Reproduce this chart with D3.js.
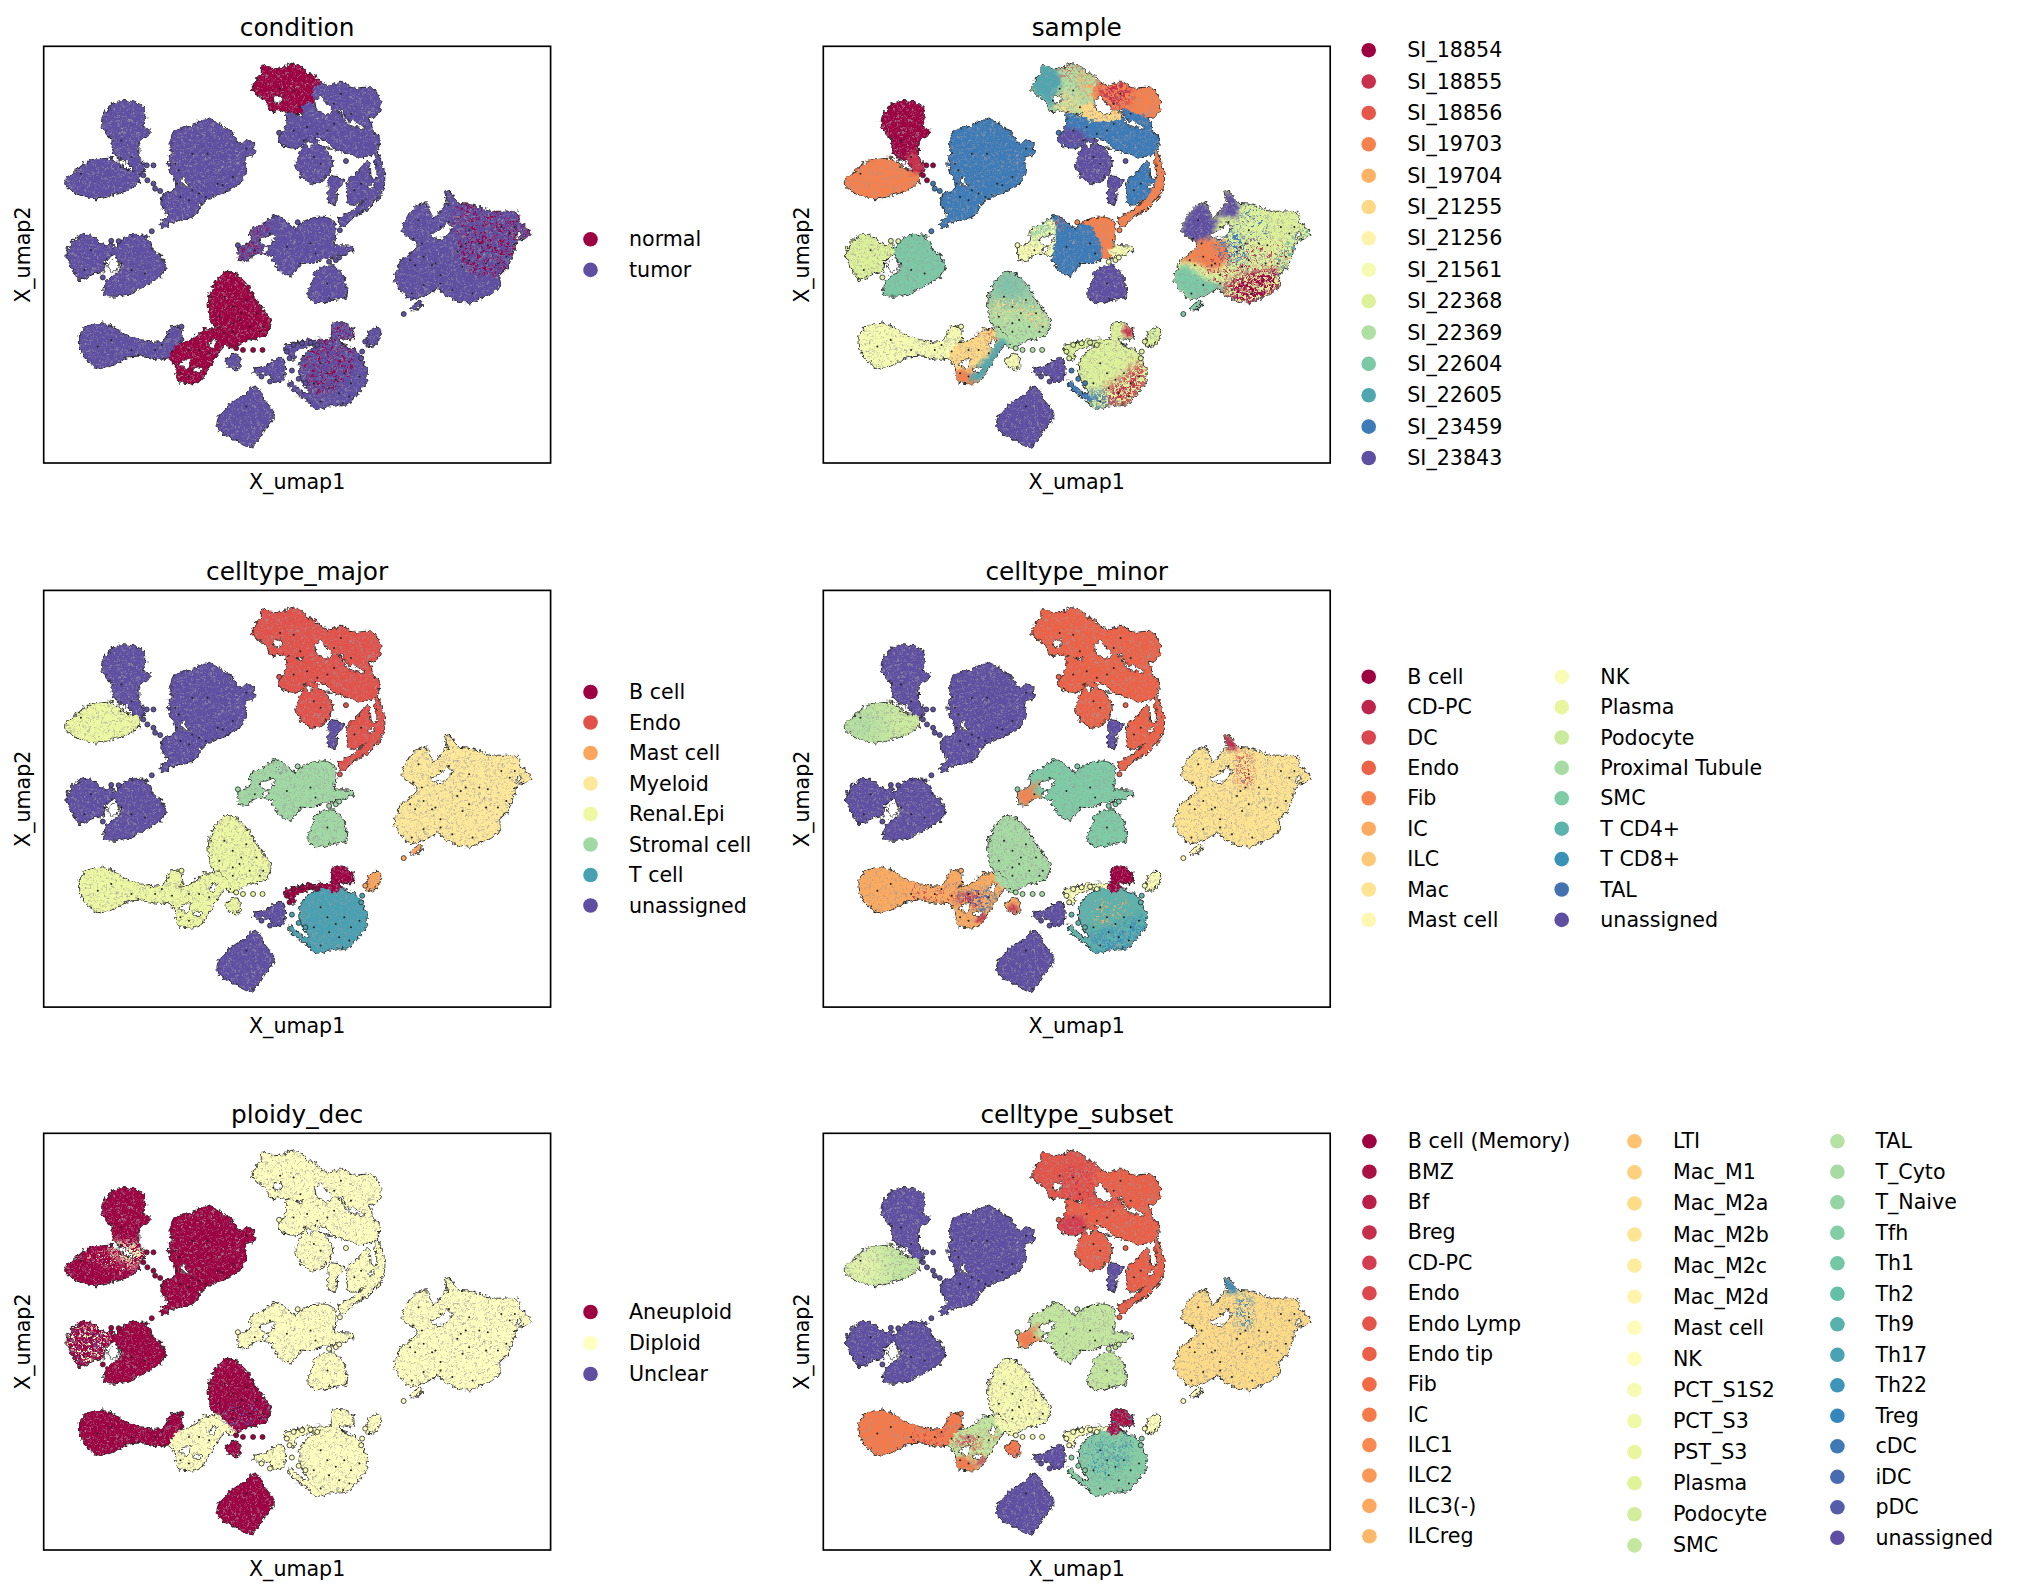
<!DOCTYPE html>
<html><head><meta charset="utf-8"><script src="https://cdn.jsdelivr.net/npm/d3@7"></script>
<style>html,body{margin:0;background:#fff}text{font-family:"DejaVu Sans";fill:#000}filter{color-interpolation-filters:sRGB}</style></head><body><svg id="c" width="2017" height="1596"></svg>
<script>
// UMAP shapes, x: 40..1541, y: 47..1300
const xDomain=[40,1541], yDomain=[47,1300];
const clusterNames=["lobe","leaf","big","lobeL","lobeR","diamond","smallBlob","myeloid","dash","endoTL","endoTR","endoBand","endoRound","finger","endoBlock","arc","endoLink","stromaMid","stromaWing","stromaRight","stromaTail","club","mesh","egg","tiny","tcell","bcell","nkBand","tLow","purple","mast","endoLink2","endoLink3","stromaLink","eggNeck"];
const clusterShapes={
lobe:[[250,216],[300,214],[337,232],[340,270],[332,290],[354,297],[347,317],[327,327],[322,345],[322,375],[338,410],[327,428],[305,418],[285,388],[262,383],[241,355],[243,330],[226,310],[213,285],[216,255],[233,233]],
leaf:[[103,458],[135,423],[170,396],[215,386],[245,386],[265,403],[290,418],[322,428],[320,457],[292,477],[250,492],[200,504],[160,499],[125,482]],
big:[[525,266],[560,283],[602,313],[622,343],[645,328],[664,352],[657,377],[637,382],[637,422],[622,457],[582,482],[542,497],[512,517],[500,532],[492,552],[450,567],[420,577],[390,592],[386,578],[408,555],[388,520],[403,488],[428,478],[423,440],[410,400],[418,370],[423,308],[470,288]],
lobeL:[[165,613],[195,628],[225,648],[235,638],[252,660],[242,674],[222,692],[217,722],[185,732],[150,747],[123,712],[110,680],[123,638]],
lobeR:[[250,660],[275,628],[315,613],[352,628],[362,658],[387,678],[399,710],[387,737],[342,767],[300,787],[255,797],[220,792],[233,745],[263,725],[268,705],[253,680]],
diamond:[[670,1070],[692,1110],[722,1155],[692,1202],[655,1252],[610,1232],[558,1197],[556,1170],[588,1128],[630,1098]],
smallBlob:[[850,720],[905,710],[927,740],[937,797],[900,807],[850,817],[825,802],[833,760]],
myeloid:[[1230,483],[1250,493],[1267,518],[1300,523],[1370,543],[1442,548],[1452,578],[1479,600],[1472,622],[1442,632],[1432,660],[1412,712],[1392,732],[1387,772],[1340,802],[1300,817],[1240,802],[1210,777],[1170,797],[1140,802],[1125,807],[1083,757],[1080,735],[1103,688],[1138,660],[1143,637],[1103,605],[1133,538],[1170,520],[1195,563],[1225,528],[1238,518]],
dash:[[1125,835],[1155,815],[1160,820],[1135,842]],
endoTL:[[690,103],[730,118],[785,98],[817,123],[857,153],[847,185],[837,217],[805,247],[770,247],[735,237],[715,242],[688,200],[661,185],[663,155],[683,133]],
endoTR:[[855,158],[880,168],[920,153],[955,173],[1010,173],[1037,210],[1027,252],[990,264],[960,252],[930,237],[905,242],[880,222],[858,195]],
endoBand:[[763,248],[820,263],[880,263],[940,263],[1000,288],[1032,330],[1027,362],[990,380],[950,372],[900,352],[870,327],[820,327],[800,347],[765,350],[738,330],[748,300],[760,288]],
endoRound:[[828,325],[870,353],[894,395],[882,432],[835,460],[803,437],[788,400],[803,363]],
finger:[[890,440],[927,448],[907,490],[902,522],[886,512],[883,470]],
endoBlock:[[1002,393],[1007,440],[1032,450],[1022,472],[985,512],[950,522],[938,490],[943,450],[973,423]],
arc:[[1022,355],[1042,400],[1049,450],[1037,492],[1002,532],[962,557],[925,587],[913,570],[948,545],[988,513],[1018,468],[1028,430],[1023,395]],
endoLink:[[805,230],[840,215],[860,235],[905,240],[925,262],[820,268]],
endoLink2:[[925,235],[965,250],[1000,262],[1010,295],[940,268]],
endoLink3:[[845,165],[880,165],[865,200],[840,205]],
stromaMid:[[720,558],[772,583],[802,623],[832,668],[862,680],[802,702],[770,735],[745,727],[718,680],[698,640],[713,600]],
stromaWing:[[720,563],[727,640],[717,672],[670,672],[640,692],[622,692],[618,655],[648,638],[658,598],[690,583]],
stromaRight:[[813,573],[890,566],[904,590],[900,640],[892,682],[860,682],[838,650],[813,610]],
stromaTail:[[890,653],[957,653],[947,667],[890,675]],
stromaLink:[[790,590],[830,585],[862,685],[805,695]],
club:[[190,880],[240,888],[280,913],[340,933],[395,933],[420,888],[447,898],[442,947],[422,977],[380,987],[330,977],[290,982],[240,1007],[210,1014],[175,997],[146,950],[148,915]],
mesh:[[430,948],[480,928],[520,898],[547,903],[557,925],[582,935],[562,962],[532,1007],[497,1057],[440,1052],[428,1010],[413,985],[423,958]],
egg:[[580,725],[632,753],[667,808],[712,875],[697,912],[640,932],[610,947],[590,927],[560,892],[538,880],[528,820],[543,768]],
eggNeck:[[545,885],[590,925],[615,950],[580,945],[555,925]],
tiny:[[585,983],[610,973],[624,990],[612,1020],[595,1017],[578,995]],
tcell:[[880,943],[947,953],[982,985],[997,1040],[977,1082],[947,1117],[890,1127],[850,1137],[828,1117],[823,1085],[798,1040],[803,990],[838,953]],
bcell:[[895,883],[937,883],[957,905],[952,927],[920,927],[915,950],[890,950],[882,935],[895,915]],
nkBand:[[755,950],[800,934],[885,932],[880,942],[830,945],[792,962],[775,990],[762,975]],
tLow:[[770,1052],[800,1082],[830,1098],[838,1122],[815,1105],[790,1092],[767,1065]],
purple:[[663,1020],[705,1005],[740,983],[754,1000],[747,1052],[725,1052],[700,1032],[663,1030]],
mast:[[1005,905],[1030,893],[1040,905],[1017,947],[1000,947]]
};
const holeShapes=[
[[1185,610],[1215,600],[1235,578],[1248,590],[1238,615],[1205,625]],
[[1447,607],[1458,615],[1447,622],[1438,618]],
[[845,210],[862,200],[880,225],[900,240],[880,250],[850,240]],
[[727,197],[743,197],[740,218],[722,213]],
[[855,342],[885,352],[898,360],[870,348]],
[[447,442],[458,447],[468,468],[452,463]],
[[682,625],[705,618],[722,612],[715,638],[695,645]],
[[692,657],[708,648],[703,663],[692,666]],
[[452,992],[473,987],[468,1013],[447,1008]],
[[492,1012],[508,1016],[495,1028],[482,1022]],
[[265,388],[283,396],[278,403],[264,396]],
[[230,700],[255,690],[262,715],[238,722]],
[[530,945],[545,925],[552,940],[538,958]],
[[1000,470],[1018,455],[1010,478]],
[[820,335],[838,340],[825,352]],
[[930,268],[975,280],[990,295],[950,285]]
];
const outliers=[[335,435,"lobe"],[347,450,"lobe"],[365,460,"big"],[370,475,"big"],[385,482,"big"],[345,405,"lobe"],[365,405,"lobe"],[360,603,"big"],[240,632,"lobeL"],[262,633,"lobeL"],[215,742,"lobeL"],[737,307,"endoBand"],[935,392,"endoRound"],[792,576,"stromaRight"],[885,695,"stromaTail"],[905,690,"stromaTail"],[915,682,"stromaTail"],[917,600,"arc"],[448,890,"club"],[610,955,"egg"],[630,960,"egg"],[660,960,"egg"],[688,960,"egg"],[1106,852,"dash"],[992,935,"mast"],[983,965,"tcell"],[980,985,"tcell"],[775,1022,"tLow"],[795,1047,"tLow"],[815,1060,"tLow"],[710,1055,"purple"],[685,1040,"purple"],[615,645,"stromaWing"],[760,965,"nkBand"],[780,945,"nkBand"],[805,940,"nkBand"],[830,938,"nkBand"],[850,945,"nkBand"],[768,985,"nkBand"]];
const speckPoints=[[1125,690],[1140,705],[1165,680],[1190,705],[1215,735],[1165,765],[1130,790],[1200,700],[1275,650],[1290,640],[1265,665],[1300,690],[1330,640],[1395,590],[1410,680],[1385,700],[1355,645],[1310,790],[1250,780],[1215,590],[1240,575],[1150,570],[1135,625],[1350,700],[1280,710],[1215,760],[1300,600],[1420,610],[1435,590],[1160,640],[440,420],[435,460],[480,480],[500,490],[520,500],[470,510],[445,500],[555,460],[570,465],[525,370],[640,355],[430,400],[480,370],[600,440],[575,800],[600,830],[640,810],[670,850],[620,870],[600,880],[650,890],[690,890],[560,860],[625,850],[680,905],[600,905],[470,960],[500,960],[530,970],[445,1030],[470,1040],[420,965],[535,940],[860,1000],[880,1030],[905,1050],[930,1030],[950,1060],[885,1075],[945,1100],[975,1040],[840,1060],[915,1090],[860,1115],[240,930],[300,960],[370,960],[390,945],[320,975],[200,950],[680,630],[710,610],[760,650],[830,640],[845,670],[800,700],[665,660],[740,175],[720,210],[780,180],[800,230],[820,290],[850,310],[880,300],[900,280],[840,380],[860,400],[980,460],[960,480],[950,250],[780,300],[810,330],[920,190],[900,220],[790,250],[270,700],[300,720],[340,730],[220,700],[160,720],[180,660],[270,330],[300,380],[290,420],[150,430],[640,1130],[880,760]];
// zones: colour patches inside clusters
const zones={
hotRight:[[1260,530],[1480,540],[1480,640],[1420,730],[1290,720],[1265,640]],
redWing:[[650,640],[665,600],[705,585],[705,600],[680,615],[668,650],[700,665],[670,675],[625,695],[618,655]],
tcellTop:[[810,985],[890,890],[960,890],[965,960],[950,1030],[880,1090],[840,1085],[815,1030]],
lobeNeck:[[290,370],[325,370],[340,425],[300,425]],
myPurple:[[1100,610],[1135,530],[1172,515],[1200,565],[1240,480],[1270,520],[1262,560],[1215,560],[1180,640],[1140,640]],
myOrange:[[1100,695],[1150,632],[1228,632],[1240,680],[1200,720],[1130,695]],
myGreen:[[1075,735],[1105,705],[1160,740],[1230,775],[1180,800],[1125,810],[1080,760]],
myRed:[[1225,770],[1300,725],[1395,725],[1390,780],[1300,825],[1235,805]],
myRedMix:[[1150,720],[1260,640],[1400,640],[1420,720],[1300,770],[1220,770]],
myTeal:[[1400,660],[1440,610],[1480,590],[1480,625],[1430,670],[1400,735],[1370,720]],
myBlue:[[1200,615],[1270,605],[1290,700],[1230,690],[1200,660]],
myBlue2:[[1260,530],[1340,535],[1350,700],[1290,740],[1270,640]],
tlTeal:[[655,150],[690,100],[735,120],[745,160],[735,185],[715,235],[690,205],[660,185]],
tlRed:[[735,120],[785,95],[815,120],[790,140],[745,145]],
tlYellow:[[735,180],[790,200],[800,250],[730,245]],
tlOrange:[[800,125],[860,155],[840,210],[800,180]],
trCrimson:[[855,155],[950,150],[950,205],[925,235],[880,225],[860,195]],
bandPurple:[[735,300],[805,300],[820,330],[800,350],[760,352],[735,335]],
wingTeal:[[660,600],[720,560],[735,590],[690,610],[660,640]],
wingRed:[[725,565],[755,580],[745,600],[725,590]],
meshOrange:[[425,1025],[470,1020],[500,1060],[430,1060]],
meshTeal:[[560,930],[585,935],[500,1055],[470,1045],[490,1020],[530,975]],
meshRed:[[520,900],[550,905],[555,940],[530,935]],
eggTeal:[[530,770],[580,720],[640,755],[665,800],[600,795],[530,800]],
eggYellow:[[530,820],[610,800],[705,870],[690,905],[620,860],[570,880]],
tcellCrimson:[[875,1080],[930,1040],[975,990],[1000,1040],[950,1125],[880,1130]],
tcellBlue:[[825,1080],[875,1090],[880,1140],[845,1140]],
bcellRed:[[930,890],[958,895],[955,920],[932,918]],
mastBlue:[[1010,908],[1025,900],[1022,925],[1008,930]],
leafLeft:[[90,460],[170,380],[195,395],[190,510],[120,500]],
myFlame:[[1225,480],[1252,490],[1268,525],[1240,525]],
myFlameMix:[[1265,540],[1305,540],[1310,630],[1275,635]],
clubMid:[[290,940],[440,925],[430,990],[295,985]],
meshBlue:[[425,960],[560,945],[530,1005],[495,1030],[460,985]],
meshCrim:[[430,965],[500,960],[505,990],[440,985]],
meshTip:[[505,1020],[525,1020],[510,1045],[495,1045]],
tinyCrim:[[590,1000],[612,990],[610,1020],[595,1018]],
tMid:[[840,985],[930,975],[950,1040],[880,1055],[840,1040]],
tSouth:[[830,1080],[900,1060],[990,1020],[1000,1050],[950,1125],[850,1140]],
endoDeep:[[745,150],[835,150],[835,240],[800,250],[770,245],[750,230]],
endoBandL:[[740,305],[810,300],[815,345],[745,350]],
fibWing:[[615,650],[650,635],[690,620],[660,650],[690,675],[630,695]],
ploidyNeck:[[240,375],[335,385],[340,440],[290,440],[240,400]],
leafTop:[[170,420],[240,395],[310,430],[300,470],[230,450]],
lobeLMix:[[112,640],[235,640],[225,740],[125,750]],
eggSpeck:[[560,880],[700,860],[700,920],[610,950]]
};
// base colour index per cluster for each panel, same order as clusterNames
const condBase=[1,1,1,1,1,1,1,1,1,0,1,1,1,1,1,1,1,1,1,1,1,1,0,0,1,1,1,1,1,1,1,1,1,1,0];
const sampleBase=[0,3,12,8,10,13,13,8,10,9,3,12,13,13,12,3,5,12,7,3,7,7,5,9,7,8,8,8,12,13,8,12,3,12,9];
const majorBase=[7,4,7,7,7,7,5,3,2,1,1,1,1,7,1,1,1,5,5,5,5,4,4,4,4,6,0,0,6,7,2,1,1,5,4];
const minorBase=[17,11,17,17,17,17,13,7,8,3,3,3,3,17,3,3,3,13,13,13,13,5,5,12,5,14,0,9,14,17,9,3,3,13,12];
const ploidyBase=[0,0,0,0,0,0,1,1,1,1,1,1,1,1,1,1,1,1,1,1,1,0,1,0,0,1,1,1,1,1,1,1,1,1,1];
const subsetBase=[41,27,41,41,41,41,27,16,20,6,7,7,7,41,7,7,6,27,27,27,27,9,27,22,9,31,1,21,31,41,21,7,7,27,22];
// colour patches: [zone, colour index, a/a2/b/b2 = mottled mix, s = solid, l = soft gradient]
const condPatch=[["hotRight",0,"a"],["redWing",0,"b"],["tcellTop",0,"a"]];
const samplePatch=[["lobeNeck",1,"s"],["myBlue2",12,"a2"],["myPurple",13,"s"],["myOrange",3,"s"],["myGreen",10,"s"],["myRedMix",1,"a2"],["myRed",0,"b2"],["myTeal",11,"a"],["myBlue",12,"b"],["tlTeal",11,"s"],["tlOrange",4,"b2"],["tlYellow",5,"b2"],["tlRed",2,"b"],["trCrimson",1,"b2"],["bandPurple",13,"s"],["wingTeal",10,"b2"],["wingRed",1,"b"],["meshOrange",3,"s"],["meshTeal",11,"s"],["meshRed",2,"b"],["eggTeal",11,"l"],["eggYellow",5,"a"],["tcellCrimson",1,"b2"],["tcellBlue",12,"b2"],["bcellRed",1,"s"],["mastBlue",12,"a"]];
const majorPatch=[["wingRed",7,"a2"]];
const minorPatch=[["leafLeft",12,"l"],["myFlame",1,"s"],["myFlameMix",2,"b"],["fibWing",4,"s"],["clubMid",2,"a2"],["meshBlue",16,"b"],["meshCrim",1,"b2"],["meshTip",1,"s"],["tinyCrim",1,"s"],["tSouth",15,"b2"],["tMid",5,"a2"]];
const ploidyPatch=[["ploidyNeck",1,"b2"],["leafTop",1,"a2"],["lobeLMix",2,"a2"],["lobeLMix",1,"a"],["eggSpeck",2,"a2"]];
const subsetPatch=[["leafLeft",22,"l"],["myFlame",37,"s"],["myFlameMix",37,"b"],["fibWing",9,"s"],["clubMid",5,"a2"],["meshBlue",9,"a2"],["meshCrim",4,"b2"],["meshOrange",9,"s"],["meshTip",4,"s"],["tinyCrim",4,"b"],["tMid",34,"b"],["tMid",15,"a2"],["tcellTop",36,"a2"],["endoDeep",4,"a"],["endoBandL",4,"s"]];

const titles=["condition","sample","celltype_major","celltype_minor","ploidy_dec","celltype_subset"];
const conditionLabels=["normal","tumor"];
const sampleLabels=["SI_18854","SI_18855","SI_18856","SI_19703","SI_19704","SI_21255","SI_21256","SI_21561","SI_22368","SI_22369","SI_22604","SI_22605","SI_23459","SI_23843"];
const majorLabels=["B cell","Endo","Mast cell","Myeloid","Renal.Epi","Stromal cell","T cell","unassigned"];
const minorLabels=["B cell","CD-PC","DC","Endo","Fib","IC","ILC","Mac","Mast cell","NK","Plasma","Podocyte","Proximal Tubule","SMC","T CD4+","T CD8+","TAL","unassigned"];
const ploidyLabels=["Aneuploid","Diploid","Unclear"];
const subsetLabels=["B cell (Memory)","BMZ","Bf","Breg","CD-PC","Endo","Endo Lymp","Endo tip","Fib","IC","ILC1","ILC2","ILC3(-)","ILCreg","LTI","Mac_M1","Mac_M2a","Mac_M2b","Mac_M2c","Mac_M2d","Mast cell","NK","PCT_S1S2","PCT_S3","PST_S3","Plasma","Podocyte","SMC","TAL","T_Cyto","T_Naive","Tfh","Th1","Th2","Th9","Th17","Th22","Treg","cDC","iDC","pDC","unassigned"];

const stops=["#9e0142","#d53e4f","#f46d43","#fdae61","#fee08b","#ffffbf","#e6f598","#abdda4","#66c2a5","#3288bd","#5e4fa2"];
const spectral=d3.scaleLinear().domain(stops.map((_,i)=>i/10)).range(stops).interpolate(d3.interpolateRgb);
const palette=n=>d3.range(n).map(i=>spectral(i/(n-1)));

const W=506.9,H=416.7;
const x=d3.scaleLinear().domain(xDomain).range([0,W]);
const y=d3.scaleLinear().domain(yDomain).range([0,H]);
const line=d3.line().x(d=>x(d[0])).y(d=>y(d[1])).curve(d3.curveCatmullRomClosed.alpha(0.5));
const svg=d3.select("#c");
const defs=svg.append("defs");

function mottleFilter(id,seed,freq,slope,off,blur){
  const f=defs.append("filter").attr("id",id).attr("x","-10%").attr("y","-10%").attr("width","120%").attr("height","120%");
  f.append("feGaussianBlur").attr("in","SourceGraphic").attr("stdDeviation",blur).attr("result","b");
  f.append("feTurbulence").attr("type","fractalNoise").attr("baseFrequency",freq).attr("numOctaves",2).attr("seed",seed).attr("result","n");
  f.append("feColorMatrix").attr("in","n").attr("type","matrix").attr("values",`0 0 0 0 0 0 0 0 0 0 0 0 0 0 0 ${slope} 0 0 0 ${off}`).attr("result","m");
  f.append("feComposite").attr("in","b").attr("in2","m").attr("operator","in");
}
mottleFilter("ma",3,0.42,9,-4.9,2);
mottleFilter("ma2",21,0.42,9,-5.3,2);
mottleFilter("mb",7,0.38,9,-4.5,3);
mottleFilter("mb2",13,0.34,9,-3.9,4);
defs.append("filter").attr("id","ms").append("feGaussianBlur").attr("stdDeviation",2);
defs.append("filter").attr("id","ml").attr("x","-40%").attr("y","-40%").attr("width","180%").attr("height","180%").append("feGaussianBlur").attr("stdDeviation",14);
// rough edge
const rough=defs.append("filter").attr("id","rough").attr("x","-3%").attr("y","-3%").attr("width","106%").attr("height","106%");
rough.append("feTurbulence").attr("type","fractalNoise").attr("baseFrequency",0.24).attr("numOctaves",2).attr("seed",5).attr("result","t");
rough.append("feDisplacementMap").attr("in","SourceGraphic").attr("in2","t").attr("scale",7).attr("xChannelSelector","R").attr("yChannelSelector","G");
// grain of grey dots over the fills
const grain=defs.append("filter").attr("id","grain").attr("x","0").attr("y","0").attr("width","100%").attr("height","100%");
grain.append("feTurbulence").attr("type","fractalNoise").attr("baseFrequency",0.5).attr("numOctaves",1).attr("seed",11).attr("result","n");
grain.append("feColorMatrix").attr("in","n").attr("type","matrix").attr("values","0 0 0 0 .62 0 0 0 0 .60 0 0 0 0 .62 3.4 0 0 0 -1.8").attr("result","g");
grain.append("feComposite").attr("in","g").attr("in2","SourceAlpha").attr("operator","in").attr("result","gi");
const mg=grain.append("feMerge");mg.append("feMergeNode").attr("in","SourceGraphic");mg.append("feMergeNode").attr("in","gi");

const cp=defs.append("clipPath").attr("id","sil");
clusterNames.forEach(n=>cp.append("path").attr("d",line(clusterShapes[n])));

const panels=[
 {t:0,left:43.7,top:46.3,base:condBase,patch:condPatch,n:2,legend:[{mx:590.5,tx:629,y0:239.3,dy:30.6,from:0,to:2}],labels:conditionLabels},
 {t:1,left:823.3,top:46.3,base:sampleBase,patch:samplePatch,n:14,legend:[{mx:1368.7,tx:1407.3,y0:50.2,dy:31.37,from:0,to:14}],labels:sampleLabels},
 {t:2,left:43.7,top:590.4,base:majorBase,patch:majorPatch,n:8,legend:[{mx:590.5,tx:629,y0:692,dy:30.5,from:0,to:8}],labels:majorLabels},
 {t:3,left:823.3,top:590.4,base:minorBase,patch:minorPatch,n:18,legend:[{mx:1368.7,tx:1407.3,y0:676.7,dy:30.4,from:0,to:9},{mx:1561.7,tx:1600.3,y0:676.7,dy:30.4,from:9,to:18}],labels:minorLabels},
 {t:4,left:43.7,top:1133.3,base:ploidyBase,patch:ploidyPatch,n:3,legend:[{mx:590.5,tx:629,y0:1312,dy:31,from:0,to:3}],labels:ploidyLabels},
 {t:5,left:823.3,top:1133.3,base:subsetBase,patch:subsetPatch,n:42,legend:[{mx:1369.4,tx:1407.8,y0:1141.3,dy:30.38,from:0,to:14},{mx:1634.5,tx:1672.9,y0:1141.3,dy:31.08,from:14,to:28},{mx:1837.4,tx:1875.4,y0:1141.3,dy:30.5,from:28,to:42}],labels:subsetLabels}
];
const dark="#2a2a2a";
panels.forEach(p=>{
  const col=palette(p.n);
  const g=svg.append("g").attr("transform",`translate(${p.left},${p.top})`);
  const r=g.append("g").attr("filter","url(#rough)");
  r.selectAll("path.o").data(clusterNames).join("path").attr("class","o").attr("d",n=>line(clusterShapes[n])).attr("fill",dark).attr("stroke",dark).attr("stroke-width",1.7).attr("stroke-linejoin","round");
  const gr=r.append("g").attr("filter","url(#grain)");
  const fills=gr.append("g");
  fills.selectAll("path").data(clusterNames).join("path").attr("d",n=>line(clusterShapes[n])).attr("fill",(n,i)=>col[p.base[i]]);
  const clip=fills.append("g").attr("clip-path","url(#sil)");
  clip.selectAll("path").data(p.patch).join("path").attr("d",d=>line(zones[d[0]])).attr("fill",d=>col[d[1]]).attr("filter",d=>`url(#m${d[2]})`);
  r.selectAll("path.h").data(holeShapes).join("path").attr("class","h").attr("d",line).attr("fill","#fff").attr("stroke",dark).attr("stroke-width",.9);
  g.selectAll("circle.oo").data(outliers).join("circle").attr("class","oo").attr("cx",d=>x(d[0])).attr("cy",d=>y(d[1])).attr("r",2.5)
    .attr("fill",d=>col[p.base[clusterNames.indexOf(d[2])]]).attr("stroke",dark).attr("stroke-width",.8);
  g.selectAll("circle.s").data(speckPoints).join("circle").attr("class","s").attr("cx",d=>x(d[0])).attr("cy",d=>y(d[1])).attr("r",1).attr("fill","#222");
  g.append("rect").attr("width",W).attr("height",H).attr("fill","none").attr("stroke","#000").attr("stroke-width",1.67);
  g.append("text").attr("x",W/2).attr("y",-10).attr("text-anchor","middle").attr("font-size",24.8).text(titles[p.t]);
  g.append("text").attr("x",W/2).attr("y",H+26).attr("text-anchor","middle").attr("font-size",20.6).text("X_umap1");
  g.append("text").attr("transform",`translate(-14,${H/2}) rotate(-90)`).attr("text-anchor","middle").attr("font-size",20.6).text("X_umap2");
  p.legend.forEach(l=>{
    const items=d3.range(l.from,l.to);
    const lg=svg.append("g");
    lg.selectAll("circle").data(items).join("circle").attr("cx",l.mx).attr("cy",(d,i)=>l.y0+i*l.dy).attr("r",7.3).attr("fill",d=>col[d]);
    lg.selectAll("text").data(items).join("text").attr("x",l.tx).attr("y",(d,i)=>l.y0+i*l.dy+7).attr("font-size",20.6).text(d=>p.labels[d]);
  });
});
</script></body></html>
